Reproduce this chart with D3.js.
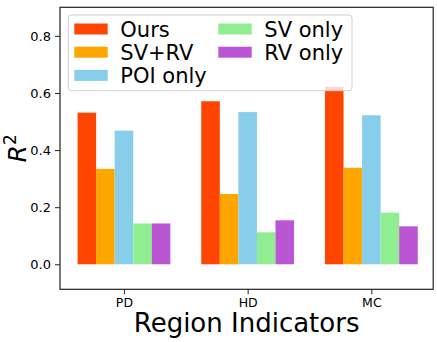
<!DOCTYPE html>
<html>
<head>
<meta charset="UTF-8">
<script src="https://d3js.org/d3.v7.min.js"></script>
<style>
  body { margin: 0; background: #fff; }
  text { font-family: "DejaVu Sans", sans-serif; fill: #000; }
</style>
</head>
<body>
<svg id="chart" width="437" height="342"></svg>
<script>
var categories = ["PD", "HD", "MC"];
var seriesNames = ["Ours", "SV+RV", "POI only", "SV only", "RV only"];
var seriesColors = ["#ff4500", "#ffa500", "#87ceeb", "#90ee90", "#ba55d3"];
var ours    = [0.531, 0.571, 0.622];
var svrv    = [0.334, 0.246, 0.338];
var poiOnly = [0.468, 0.533, 0.522];
var svOnly  = [0.143, 0.112, 0.181];
var rvOnly  = [0.143, 0.154, 0.133];
var yTicks = [0.0, 0.2, 0.4, 0.6, 0.8];

var allSeries = [ours, svrv, poiOnly, svOnly, rvOnly];
var barW = 0.15;

// plot area in pixels
var pLeft = 60, pRight = 433.2, pTop = 7.3, pBottom = 289.3;
var svg = d3.select("#chart");

var x = d3.scaleLinear().domain([-0.517, 2.5]).range([pLeft, pRight]);
var y = d3.scaleLinear().domain([-0.0876, 0.9]).range([pBottom, pTop]);

// bars
allSeries.forEach(function(vals, j) {
  svg.append("g").selectAll("rect")
    .data(vals)
    .enter().append("rect")
    .attr("x", function(d, i) { return x(i + (j - 2) * barW - barW / 2); })
    .attr("width", x(barW) - x(0))
    .attr("y", function(d) { return y(d); })
    .attr("height", function(d) { return y(0) - y(d); })
    .attr("fill", seriesColors[j]);
});

// axes
var yAxis = d3.axisLeft(y).tickValues(yTicks).tickFormat(d3.format(".1f")).tickSize(5).tickPadding(4);
var gy = svg.append("g").attr("transform", "translate(" + pLeft + ",0)").call(yAxis);
gy.select(".domain").remove();
gy.selectAll("text").style("font-size", "13px").style("font-family", "DejaVu Sans");
gy.selectAll("line").attr("stroke", "#222").attr("stroke-width", 1);

var xAxis = d3.axisBottom(x).tickValues([0, 1, 2]).tickFormat(function(d) { return categories[d]; }).tickSize(5).tickPadding(4);
var gx = svg.append("g").attr("transform", "translate(0," + pBottom + ")").call(xAxis);
gx.select(".domain").remove();
gx.selectAll("text").style("font-size", "12.5px").style("font-family", "DejaVu Sans");
gx.selectAll("line").attr("stroke", "#222").attr("stroke-width", 1);

// frame
svg.append("rect")
  .attr("x", pLeft).attr("y", pTop)
  .attr("width", pRight - pLeft).attr("height", pBottom - pTop)
  .attr("fill", "none").attr("stroke", "#222").attr("stroke-width", 1.2);

// axis labels
svg.append("text")
  .attr("x", (pLeft + pRight) / 2).attr("y", 332)
  .attr("text-anchor", "middle")
  .style("font-size", "26px")
  .text("Region Indicators");

var yl = svg.append("text")
  .attr("transform", "translate(26," + ((pTop + pBottom) / 2) + ") rotate(-90)")
  .attr("text-anchor", "middle")
  .style("font-size", "25px");
yl.append("tspan").style("font-style", "italic").text("R");
yl.append("tspan").attr("dy", -10).style("font-size", "17px").text("2");

// legend
var lg = svg.append("g");
lg.append("rect")
  .attr("x", 68.3).attr("y", 15).attr("width", 283.7).attr("height", 75.7)
  .attr("rx", 3).attr("fill", "#fff").attr("fill-opacity", 0.8)
  .attr("stroke", "#d0d0d0").attr("stroke-width", 1);

var colX = [74.3, 218.3];
var rowY = [29, 52.2, 75.4];
seriesNames.forEach(function(name, j) {
  var c = j < 3 ? 0 : 1;
  var r = j < 3 ? j : j - 3;
  lg.append("rect")
    .attr("x", colX[c]).attr("y", rowY[r] - 5.5)
    .attr("width", 33.4).attr("height", 11)
    .attr("fill", seriesColors[j]);
  lg.append("text")
    .attr("x", colX[c] + 46).attr("y", rowY[r])
    .attr("dy", "0.36em")
    .style("font-size", "21px")
    .text(name);
});
</script>
</body>
</html>
